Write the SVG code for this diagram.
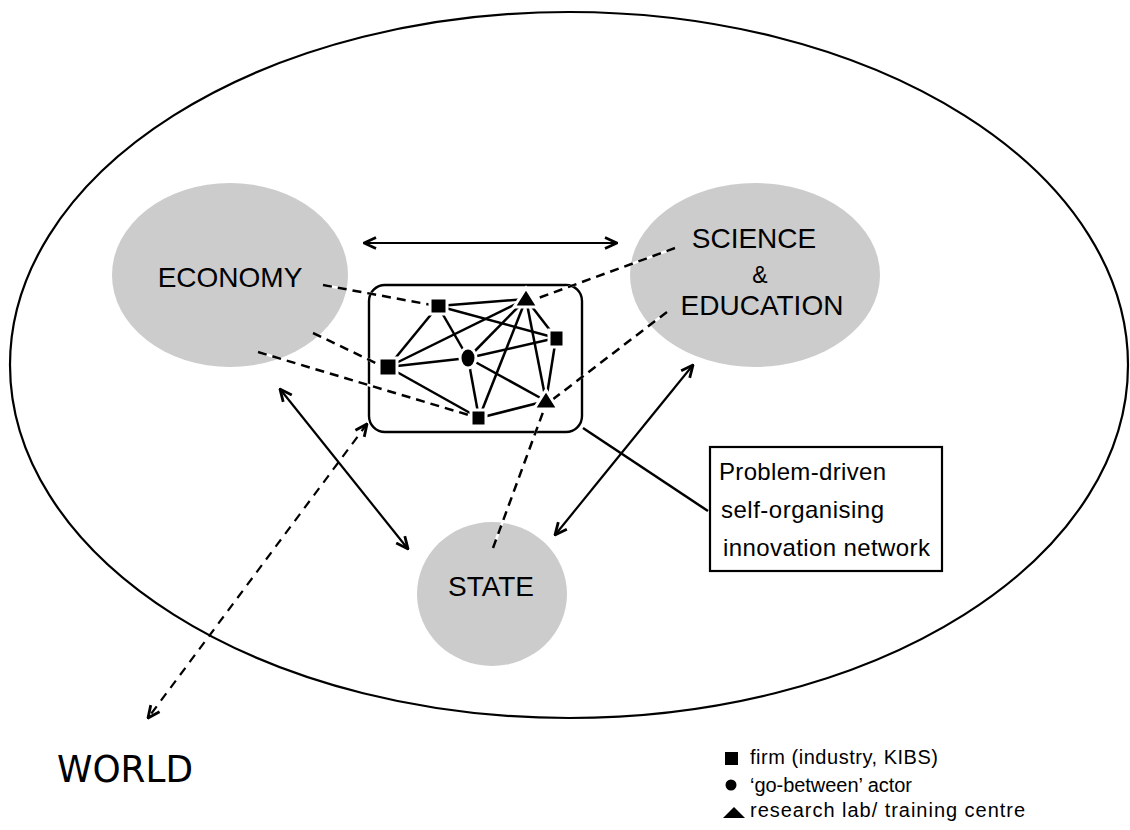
<svg xmlns="http://www.w3.org/2000/svg" width="1130" height="830" viewBox="0 0 1130 830">
<style>
.sector{fill:#cccccc;stroke:none}
.lbl{font-family:"Liberation Sans",Arial,sans-serif;fill:#000}
.edge{stroke:#000;stroke-width:2.5;fill:none}
.dash{stroke:#000;stroke-width:2.5;stroke-dasharray:9 6;fill:none}
.under{stroke:#fff;stroke-width:2.5;fill:none}
.arrow{stroke:#000;stroke-width:2.2;fill:none;marker-start:url(#ah);marker-end:url(#ah)}
.node{fill:#000;stroke:#fff;stroke-width:3}
</style>
<defs>
<marker id="ah" viewBox="0 0 14 14" refX="13" refY="7" markerWidth="14" markerHeight="14" markerUnits="userSpaceOnUse" orient="auto-start-reverse">
<path d="M1,1.5 L13,7 L1,12.5" fill="none" stroke="#000" stroke-width="2.8"/>
</marker>
</defs>
<rect width="1130" height="830" fill="#fff"/>
<g id="system">
<ellipse cx="569" cy="365" rx="559" ry="353" fill="none" stroke="#000" stroke-width="2.2"/>
</g>
<g id="economy"><ellipse class="sector" cx="230" cy="275" rx="118" ry="92"/></g>
<g id="science"><ellipse class="sector" cx="755" cy="275" rx="125" ry="92"/></g>
<g id="state"><ellipse class="sector" cx="492" cy="594" rx="75" ry="72"/></g>
<g id="network-box"><rect x="369" y="285" width="213" height="147" rx="16" ry="16" fill="none" stroke="#000" stroke-width="2.4"/></g>
<g id="connectors">
<line class="edge" x1="438" y1="306" x2="526" y2="299"/>
<line class="edge" x1="438" y1="306" x2="556" y2="338"/>
<line class="edge" x1="438" y1="306" x2="388" y2="367"/>
<line class="edge" x1="438" y1="306" x2="468" y2="358"/>
<line class="edge" x1="526" y1="299" x2="388" y2="367"/>
<line class="edge" x1="526" y1="299" x2="468" y2="358"/>
<line class="edge" x1="526" y1="299" x2="556" y2="338"/>
<line class="edge" x1="526" y1="299" x2="479" y2="418"/>
<line class="edge" x1="526" y1="299" x2="546" y2="401"/>
<line class="edge" x1="388" y1="367" x2="468" y2="358"/>
<line class="edge" x1="388" y1="367" x2="479" y2="418"/>
<line class="edge" x1="468" y1="358" x2="556" y2="338"/>
<line class="edge" x1="468" y1="358" x2="479" y2="418"/>
<line class="edge" x1="468" y1="358" x2="546" y2="401"/>
<line class="edge" x1="556" y1="338" x2="546" y2="401"/>
<line class="edge" x1="479" y1="418" x2="546" y2="401"/>
<path class="under" d="M323,285 L432,305 M313,333 L382,366 M258,352 L472,416 M675,248 L533,300 M667,312 L552,400 M493,548 L546,404"/>
<path class="dash" d="M323,285 L432,305 M313,333 L382,366 M258,352 L472,416 M675,248 L533,300 M667,312 L552,400 M493,548 L546,404"/>
<line class="arrow" x1="364" y1="243" x2="617" y2="243"/>
<line class="arrow" x1="280" y1="389" x2="408" y2="549"/>
<line class="arrow" x1="693" y1="365" x2="555" y2="535"/>
<line class="arrow" x1="367" y1="424" x2="148" y2="718" stroke-dasharray="9 7"/>
<line class="edge" x1="583" y1="428" x2="708" y2="511"/>
</g>
<g id="nodes">
<rect class="node" x="430" y="298" width="17" height="16"/>
<path class="node" d="M526,288 L538,307 L514,307 Z"/>
<rect class="node" x="549" y="330" width="15" height="17"/>
<rect class="node" x="379" y="358" width="18" height="18"/>
<ellipse class="node" cx="468" cy="358" rx="8" ry="10"/>
<path class="node" d="M546,390 L558,409 L534,409 Z"/>
<rect class="node" x="471" y="410" width="15" height="16"/>
</g>
<g id="labels">
<text class="lbl" x="230" y="287" font-size="28" text-anchor="middle">ECONOMY</text>
<text class="lbl" x="754" y="248" font-size="28" text-anchor="middle">SCIENCE</text>
<text class="lbl" x="760" y="283" font-size="23" text-anchor="middle">&amp;</text>
<text class="lbl" x="762" y="315" font-size="28" text-anchor="middle">EDUCATION</text>
<text class="lbl" x="491" y="596" font-size="28" text-anchor="middle">STATE</text>
<text x="57" y="782" font-size="37" font-family="'DejaVu Sans','Liberation Sans',sans-serif" textLength="136" lengthAdjust="spacingAndGlyphs">WORLD</text>
</g>
<g id="callout">
<rect x="710" y="447" width="232" height="124" fill="#fff" stroke="#000" stroke-width="2.2"/>
<text class="lbl" x="719" y="480" font-size="24" textLength="167" lengthAdjust="spacing">Problem-driven</text>
<text class="lbl" x="721" y="518" font-size="24" textLength="163" lengthAdjust="spacing">self-organising</text>
<text class="lbl" x="723" y="556" font-size="24" textLength="207" lengthAdjust="spacing">innovation network</text>
</g>
<g id="legend">
<rect x="725" y="752" width="13" height="13" fill="#000"/>
<text class="lbl" x="750" y="764" font-size="20" textLength="188" lengthAdjust="spacing">firm (industry, KIBS)</text>
<circle cx="731" cy="785" r="5.5" fill="#000"/>
<text class="lbl" x="750" y="792" font-size="20" textLength="162" lengthAdjust="spacing">‘go-between’ actor</text>
<path d="M734,807 L745,818 L723,818 Z" fill="#000"/>
<text class="lbl" x="750" y="817" font-size="20" textLength="275" lengthAdjust="spacing">research lab/ training centre</text>
</g>
</svg>
